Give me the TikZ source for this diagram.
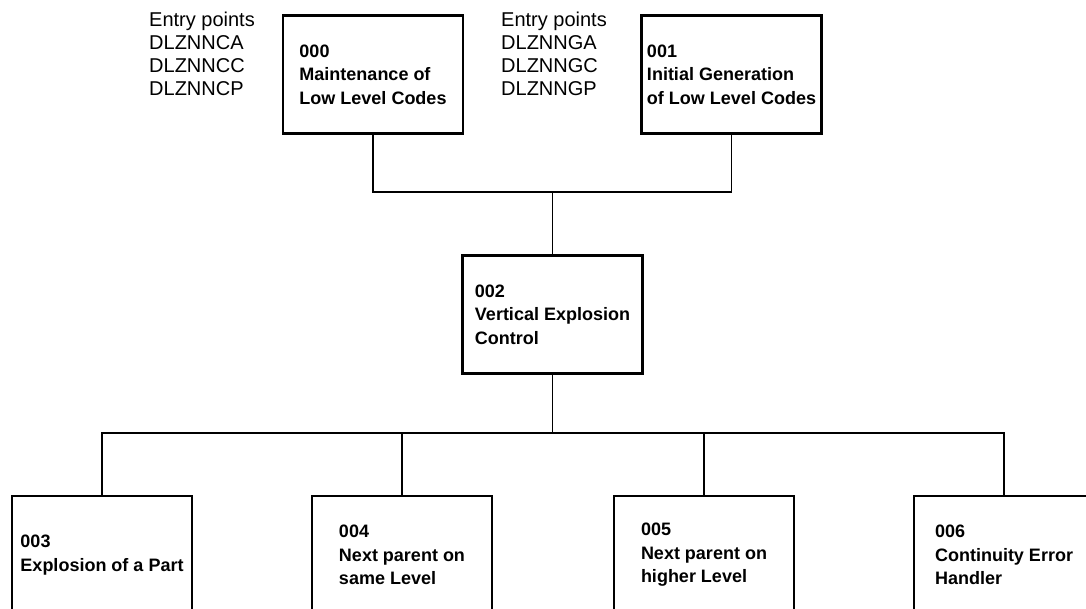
\documentclass[tikz,border=0pt]{standalone}
\usepackage{fontspec}
\setmainfont{Liberation Sans}
\usepackage{tikz}
\usetikzlibrary{calc,positioning}

\begin{document}
\begin{tikzpicture}[x=1pt,y=-1pt,
    module/.style={draw,line width=2.4pt,rectangle,align=left,
      minimum width=180pt,minimum height=118pt,inner sep=0pt,
      font=\bfseries\fontsize{18}{23.5}\selectfont},
    entry/.style={anchor=north west,align=left,inner sep=0pt,
      font=\fontsize{20}{23}\selectfont},
    link/.style={line width=1.6pt}]
    \useasboundingbox (0,0) rectangle (1086,609);
    \clip (0,0) rectangle (1086,609);

    % modules, top to bottom
    \path
    (373,74.5) node[module](m000){000\\Maintenance of\\Low Level Codes}
    (731.5,74.5) node[module](m001){001\\Initial Generation\\of Low Level Codes}
    (552.5,314.5) node[module](m002){002\\Vertical Explosion\\Control}
    (102,555) node[module](m003){003\\Explosion of a Part}
    (402,555) node[module](m004){004\\Next parent on\\same Level}
    (704,555) node[module](m005){005\\Next parent on\\higher Level}
    (1004,555) node[module](m006){006\\Continuity Error\\Handler};

    \node[entry] (ep000) at (149,12) {Entry points\\DLZNNCA\\DLZNNCC\\DLZNNCP};
    \node[entry] (ep001) at (501,12) {Entry points\\DLZNNGA\\DLZNNGC\\DLZNNGP};

    \coordinate (join) at ($(m002.north)+(0,-62)$);
    \coordinate (bus) at ($(m002.south)+(0,58)$);

    \draw[link] (m000.south) |- (join) -| (m001.south);
    \draw[link] (join) -- (m002.north);
    \draw[link] (m002.south) -- (bus);
    \foreach \n in {003,004,005,006} {
      \draw[link] (m\n.north) |- (bus);
    }
\end{tikzpicture}
\end{document}
